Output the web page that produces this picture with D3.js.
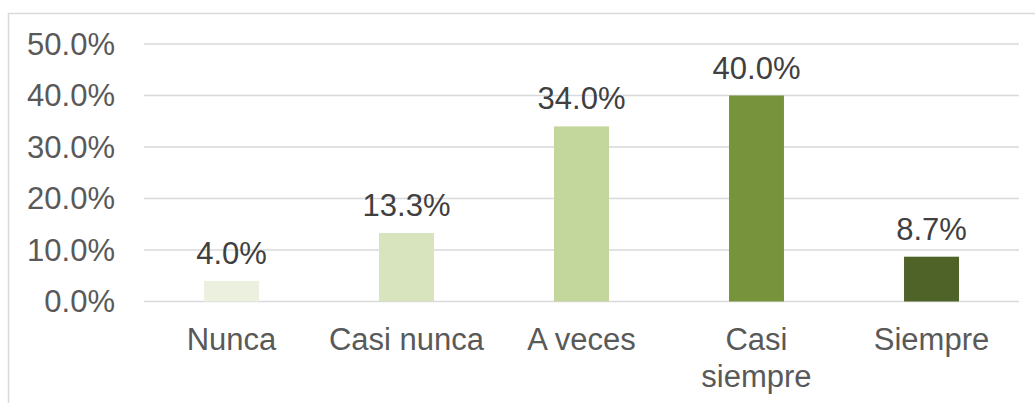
<!DOCTYPE html>
<html>
<head>
<meta charset="utf-8">
<script src="https://cdn.jsdelivr.net/npm/d3@7"></script>
<style>
  body { margin: 0; background: #fff; }
  text { font-family: "Liberation Sans", Arial, sans-serif; fill: #595959; }
</style>
</head>
<body>
<svg id="chart"></svg>
<script>
// data
const categories = ["Nunca", "Casi nunca", "A veces", "Casi siempre", "Siempre"];
const catLines = [["Nunca"], ["Casi nunca"], ["A veces"], ["Casi", "siempre"], ["Siempre"]];
const values = [0.04, 0.133, 0.34, 0.40, 0.087];
const colors = ["#EBF1DE", "#D7E4BD", "#C3D69B", "#77933C", "#4F6228"];
const yTicks = [0, 0.1, 0.2, 0.3, 0.4, 0.5];

const width = 1035, height = 403;
const svg = d3.select('#chart')
  .attr('width', width)
  .attr('height', height);

// chart border (only top and left are in view)
svg.append('rect')
  .attr('x', 8.5).attr('y', 13.5)
  .attr('width', 1040).attr('height', 420)
  .attr('fill', 'none')
  .attr('stroke', '#D9D9D9')
  .attr('stroke-width', 1.5);

const x = d3.scaleBand()
  .domain(categories)
  .range([144, 1019])
  .paddingInner(0.686)
  .paddingOuter(0.343);

const y = d3.scaleLinear()
  .domain([0, 0.5])
  .range([301.5, 44]);

const fmt = d3.format('.1%');

// gridlines
svg.append('g').selectAll('line')
  .data(yTicks)
  .enter().append('line')
  .attr('x1', 144).attr('x2', 1019)
  .attr('y1', d => y(d)).attr('y2', d => y(d))
  .attr('stroke', '#D9D9D9')
  .attr('stroke-width', 1.5);

// y labels
svg.append('g').selectAll('text')
  .data(yTicks)
  .enter().append('text')
  .attr('x', 115)
  .attr('y', d => y(d))
  .attr('dy', '0.35em')
  .attr('text-anchor', 'end')
  .style('font-size', '31px')
  .text(d => fmt(d));

// bars
svg.append('g').selectAll('rect')
  .data(values)
  .enter().append('rect')
  .attr('x', (d, i) => x(categories[i]))
  .attr('width', x.bandwidth())
  .attr('y', d => y(d))
  .attr('height', d => y(0) - y(d))
  .attr('fill', (d, i) => colors[i]);

// value labels
svg.append('g').selectAll('text')
  .data(values)
  .enter().append('text')
  .attr('x', (d, i) => x(categories[i]) + x.bandwidth() / 2)
  .attr('y', d => y(d) - 17)
  .attr('text-anchor', 'middle')
  .style('font-size', '31px')
  .style('fill', '#404040')
  .text(d => fmt(d));

// category labels
const cat = svg.append('g').selectAll('text')
  .data(catLines)
  .enter().append('text')
  .attr('x', (d, i) => x(categories[i]) + x.bandwidth() / 2)
  .attr('y', 350)
  .attr('text-anchor', 'middle')
  .style('font-size', '31px');

cat.selectAll('tspan')
  .data((d, i) => d.map(t => ({ t, cx: x(categories[i]) + x.bandwidth() / 2 })))
  .enter().append('tspan')
  .attr('x', d => d.cx)
  .attr('dy', (d, j) => j === 0 ? 0 : 37)
  .text(d => d.t);
</script>
</body>
</html>
